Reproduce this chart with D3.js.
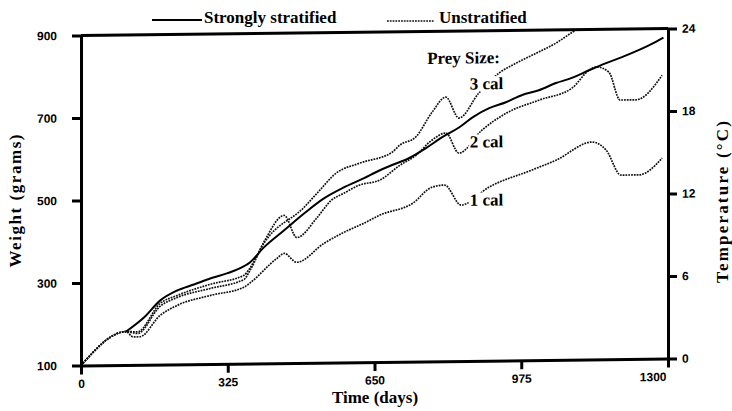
<!DOCTYPE html>
<html>
<head>
<meta charset="utf-8">
<script src="https://cdn.jsdelivr.net/npm/d3@7"></script>
<style>
  body { margin: 0; background: #fff; }
  svg { display: block; font-family: "Liberation Serif", "Times New Roman", serif; font-weight: bold; }
</style>
</head>
<body>
<svg id="chart" width="732" height="411"></svg>
<script>
// [day, weight in grams]
var stratified = [[100,181],[140,215],[175,255],[213,279],[250,293],[286,307],[323,319],[361,336],
  [374,345],[405,381],[450,422],[494,462],[538,498],[582,524],[627,546],[653,560],[689,577],[726,593],
  [764,617],[800,643],[837,666],[868,691],[904,712],[941,726],[977,743],[1014,754],[1052,771],[1087,783],
  [1125,801],[1163,818],[1198,832],[1236,849],[1273,868],[1290,878]];
var unstrat3 = [[0,100],[100,181],[125,180],[175,248],[213,267],[286,293],[361,314],[374,331],[405,391],
  [494,477],[523,511],[565,559],[616,582],[689,608],[706,625],[742,645],[777,703],[808,740],[837,689],
  [881,749],[926,797],[963,820],[1014,847],[1052,868],[1087,893],[1115,912]];
var unstrat2 = [[0,100],[100,181],[125,176],[175,241],[213,262],[286,283],[361,304],[374,325],[407,398],
  [450,458],[478,404],[523,452],[554,493],[582,510],[616,529],[662,541],[706,576],[742,600],[777,636],
  [808,653],[837,604],[888,659],[941,699],[1014,730],[1087,758],[1125,801],[1141,809],[1169,796],
  [1194,728],[1229,728],[1287,787]];
var unstrat1 = [[0,100],[100,181],[115,168],[130,168],[175,219],[213,243],[286,266],[361,285],[374,295],
  [434,354],[450,366],[478,344],[538,389],[582,415],[627,437],[662,456],[735,484],[777,522],[805,527],
  [842,478],[904,521],[999,561],[1052,584],[1132,627],[1163,607],[1196,546],[1236,546],[1287,586]];

var dayTicks = [0, 325, 650, 975, 1300];
var weightTicks = [100, 300, 500, 700, 900];
var tempTicks = [0, 6, 12, 18, 24];
var preyNames = ["3 cal", "2 cal", "1 cal"];
var preyAt = [758, 617, 476]; // weight level of each label

var svg = d3.select("#chart");

var x = d3.scaleLinear().domain([0, 1300]).range([81, 668]);
var y = d3.scaleLinear().domain([100, 900]).range([362, 32]);
var yTemp = d3.scaleLinear().domain([0, 24]).range([362, 32]);

svg.append("defs").append("clipPath").attr("id", "plotclip")
  .append("rect").attr("x", 81).attr("y", 32).attr("width", 587).attr("height", 330);

// the scanned figure leans a little, right side higher
var g = svg.append("g").attr("transform", "matrix(1,-0.0119,0,1,0,4.46)");

var line = d3.line()
  .x(function(d) { return x(d[0]); })
  .y(function(d) { return y(d[1]); })
  .curve(d3.curveMonotoneX);

var lines = g.append("g").attr("clip-path", "url(#plotclip)");
[unstrat1, unstrat2, unstrat3].forEach(function(s) {
  lines.append("path").datum(s).attr("d", line)
    .attr("fill", "none").attr("stroke", "#111").attr("stroke-width", 1.7)
    .attr("stroke-dasharray", "1.8,1");
});
lines.append("path").datum(stratified).attr("d", line)
  .attr("fill", "none").attr("stroke", "#000").attr("stroke-width", 2);

// labels with white box so the lines break behind them
var lab = g.append("g").attr("font-size", 17);
function label(txt, xv, yv) {
  var box = lab.append("rect").attr("fill", "#fff");
  var t = lab.append("text").attr("x", x(xv)).attr("y", y(yv))
    .attr("text-anchor", "end").text(txt);
  var b = t.node().getBBox();
  box.attr("x", b.x - 1).attr("y", b.y + 2).attr("width", b.width + 2).attr("height", b.height - 4);
}
label("Prey Size:", 928, 821);
for (var i = 0; i < preyNames.length; i++) label(preyNames[i], 935, preyAt[i]);

// axes
function styleAxis(sel) {
  sel.select(".domain").attr("stroke-width", 3).attr("stroke", "#000");
  sel.selectAll(".tick line").attr("stroke-width", 3).attr("stroke", "#000");
  sel.selectAll("text").attr("font-size", 12).attr("font-family", null).attr("fill", "#000");
}
var fmt = d3.format("d");

var ax = g.append("g").attr("transform", "translate(0,362)")
  .call(d3.axisBottom(x).tickValues(dayTicks).tickFormat(fmt).tickSize(9).tickSizeOuter(0).tickPadding(5));
styleAxis(ax);
ax.selectAll(".tick text").filter(function(d) { return d === 1300; })
  .attr("text-anchor", "end").attr("x", -2);

var ayl = g.append("g").attr("transform", "translate(81,0)")
  .call(d3.axisLeft(y).tickValues(weightTicks).tickFormat(fmt).tickSize(9).tickSizeOuter(0).tickPadding(15));
styleAxis(ayl);

var ayr = g.append("g").attr("transform", "translate(668,0)")
  .call(d3.axisRight(yTemp).tickValues(tempTicks).tickFormat(fmt).tickSize(9).tickSizeOuter(0).tickPadding(5));
styleAxis(ayr);

g.append("line").attr("x1", 81).attr("x2", 668).attr("y1", 32).attr("y2", 32)
  .attr("stroke", "#000").attr("stroke-width", 3);

// axis titles
svg.append("text").attr("x", 375).attr("y", 403).attr("text-anchor", "middle")
  .attr("font-size", 17).text("Time (days)");
svg.append("text").attr("transform", "translate(21,201) rotate(-90)").attr("text-anchor", "middle")
  .attr("font-size", 17).attr("textLength", 133).attr("lengthAdjust", "spacing").text("Weight (grams)");
svg.append("text").attr("transform", "translate(728,202) rotate(-90)").attr("text-anchor", "middle")
  .attr("font-size", 17).attr("textLength", 162).attr("lengthAdjust", "spacing").text("Temperature (\u00B0C)");

// legend
var leg = svg.append("g").attr("font-size", 17);
leg.append("line").attr("x1", 152).attr("x2", 202).attr("y1", 20).attr("y2", 20)
  .attr("stroke", "#000").attr("stroke-width", 1.8);
leg.append("text").attr("x", 204).attr("y", 23).text("Strongly stratified");
leg.append("line").attr("x1", 387).attr("x2", 434).attr("y1", 21).attr("y2", 21)
  .attr("stroke", "#111").attr("stroke-width", 1.7).attr("stroke-dasharray", "1.8,1");
leg.append("text").attr("x", 439).attr("y", 23).text("Unstratified");
</script>
</body>
</html>
